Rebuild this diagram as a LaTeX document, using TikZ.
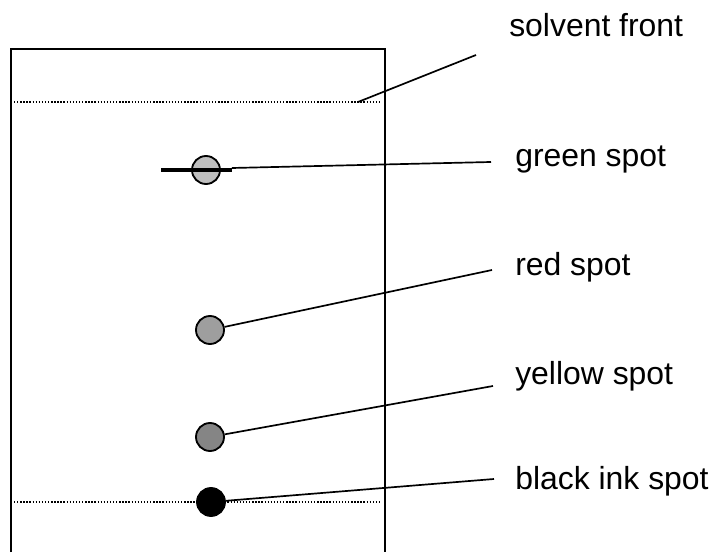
\documentclass[tikz,border=0pt]{standalone}
\usepackage{fontspec}
\setmainfont{Liberation Sans}
\usepackage{tikz}

\begin{document}
\begin{tikzpicture}
    \tikzstyle{every node}=[font=\fontsize{22.7}{27}\selectfont]
    \tikzstyle{spot}=[circle,draw,line width=1.3pt,minimum size=0.7cm,inner sep=0pt]
    \tikzstyle{lbl}=[anchor=base west,inner sep=0pt]
    \tikzstyle{leader}=[line width=1.2pt]
    \tikzstyle{front}=[line width=1pt,dash pattern=on 1pt off 1.2pt]
    \useasboundingbox (0,0) rectangle (17.9,13.8);

    % the plate
    \draw[line width=1.2pt] (0.275,0) -- (0.275,12.575) -- (9.625,12.575) -- (9.625,0);
    \draw[front] (0.35,11.25) -- (9.55,11.25);
    \draw[front] (0.35,1.25) -- (9.55,1.25);

    % the spots
    \node[spot,fill=black!25] (green) at (5.15,9.55) {};
    \node[spot,fill=black!38] (red) at (5.25,5.55) {};
    \node[spot,fill=black!48] (yellow) at (5.25,2.875) {};
    \node[spot,fill=black] (black) at (5.275,1.25) {};
    \draw[line width=2.4pt] ([xshift=-1.125cm]green.center) -- ([xshift=0.65cm]green.center)
        coordinate (barend);

    % labels
    \node[lbl] (frontlbl) at (12.725,12.875) {solvent front};
    \node[lbl] (greenlbl) at (12.875,9.625) {green spot};
    \node[lbl] (redlbl) at (12.875,6.9) {red spot};
    \node[lbl] (yellowlbl) at (12.875,4.175) {yellow spot};
    \node[lbl] (blacklbl) at (12.875,1.55) {black ink spot};

    \coordinate (frontpt) at (8.95,11.25);
    \coordinate (frontend) at (11.9,12.425);
    \coordinate (greenend) at (12.275,9.75);
    \coordinate (redend) at (12.3,7.05);
    \coordinate (yellowend) at (12.325,4.15);
    \coordinate (blackend) at (12.35,1.825);

    \draw[leader] (frontpt) -- (frontend);
    \draw[leader] ([yshift=0.05cm]barend) -- (greenend);
    \draw[leader] (red) -- (redend);
    \draw[leader] (yellow) -- (yellowend);
    \draw[leader] (black) -- (blackend);

\end{tikzpicture}
\end{document}
